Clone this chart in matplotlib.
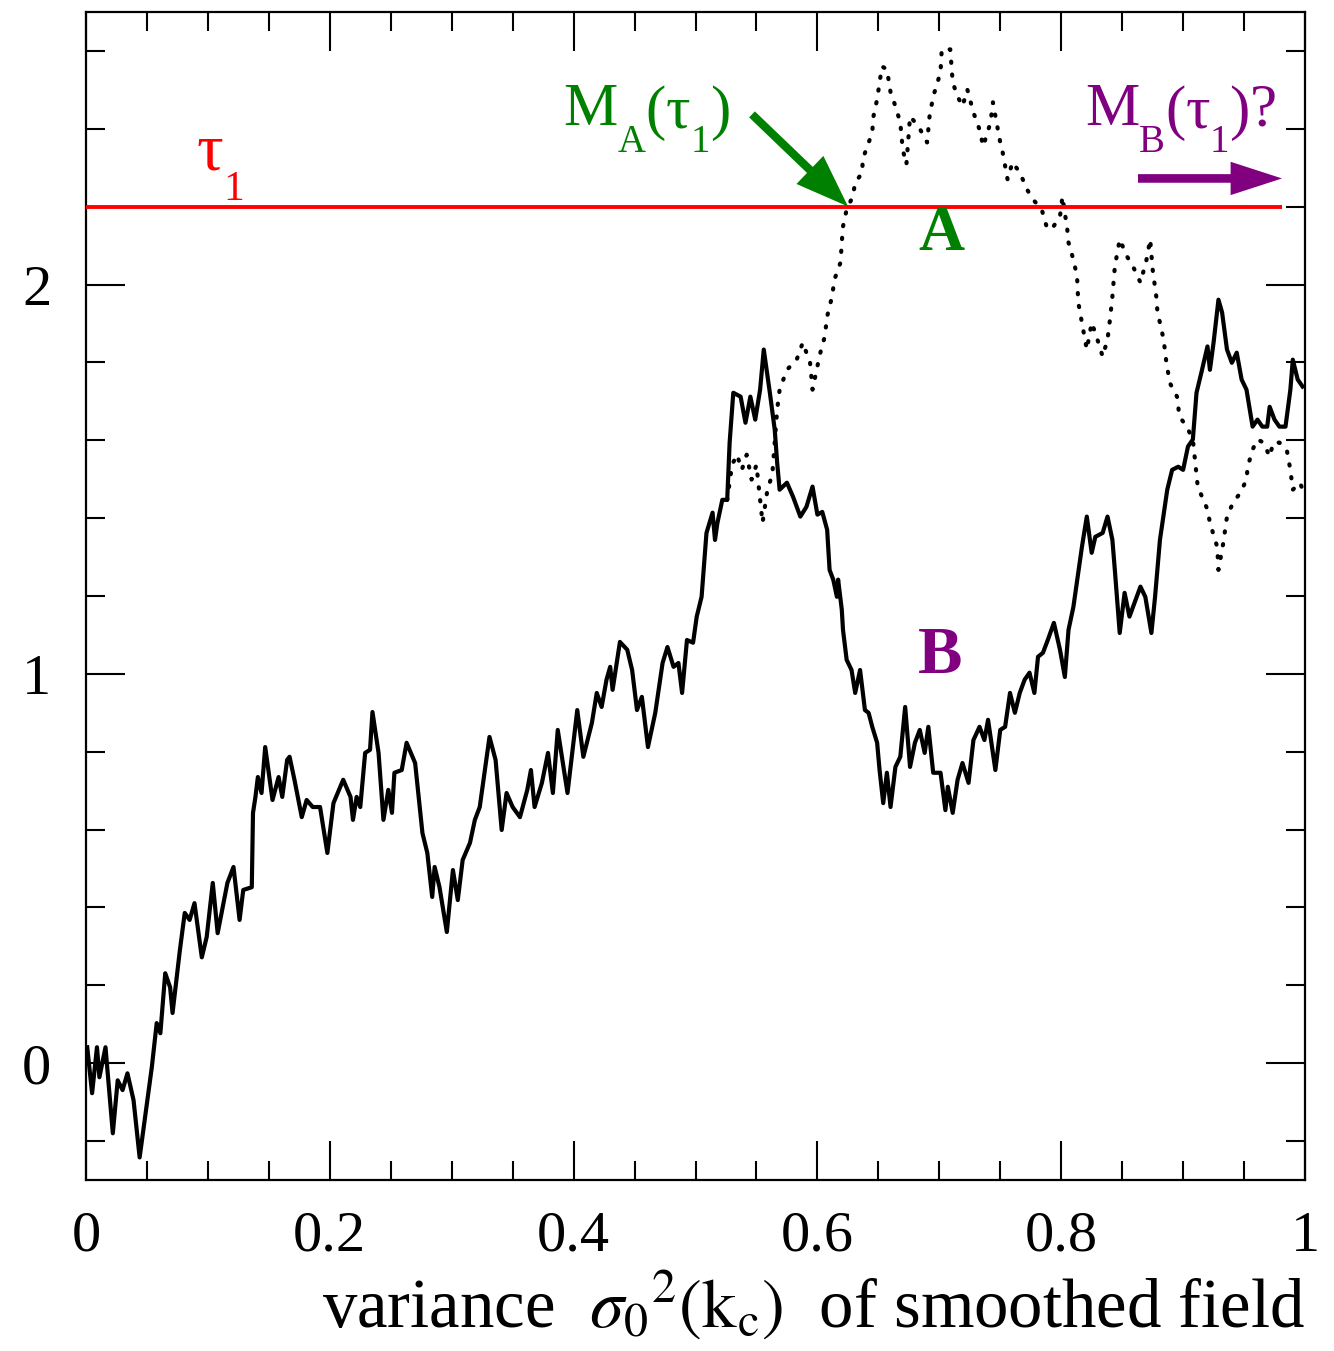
import matplotlib
matplotlib.use('Agg')
import matplotlib.pyplot as plt
from matplotlib.ticker import MultipleLocator, FixedLocator, FixedFormatter

plt.rcParams['mathtext.fontset'] = 'stix'
plt.rcParams['font.family'] = ['Liberation Serif', 'DejaVu Serif']

# ---------------- data ----------------
# common part of the random walk (before the two paths split)
common_x = [0.001, 0.005, 0.009, 0.011, 0.016, 0.022, 0.026, 0.030, 0.034, 0.039,
            0.044, 0.050, 0.054, 0.058, 0.061, 0.065, 0.069, 0.071, 0.077, 0.081,
            0.085, 0.089, 0.095, 0.099, 0.104, 0.108, 0.116, 0.121, 0.126, 0.129,
            0.136, 0.137, 0.139, 0.141, 0.144, 0.147, 0.153, 0.158, 0.161, 0.165,
            0.167, 0.171, 0.177, 0.181, 0.186, 0.192, 0.198, 0.203, 0.211, 0.217,
            0.219, 0.222, 0.225, 0.229, 0.233, 0.235, 0.240, 0.244, 0.248, 0.251,
            0.253, 0.259, 0.263, 0.270, 0.276, 0.280, 0.284, 0.286, 0.290, 0.296,
            0.301, 0.305, 0.309, 0.315, 0.319, 0.323, 0.331, 0.336, 0.341, 0.345,
            0.350, 0.356, 0.362, 0.365, 0.368, 0.374, 0.379, 0.383, 0.387, 0.395,
            0.403, 0.408, 0.415, 0.419, 0.423, 0.427, 0.430, 0.432, 0.438, 0.444,
            0.448, 0.452, 0.456, 0.461, 0.467, 0.473, 0.477, 0.482, 0.486, 0.489,
            0.493, 0.498, 0.501, 0.505, 0.509, 0.514, 0.516, 0.518, 0.522, 0.526]
common_y = [0.041, -0.077, 0.041, -0.036, 0.041, -0.180, -0.044, -0.069, -0.026, -0.095,
            -0.242, -0.103, -0.010, 0.103, 0.077, 0.231, 0.195, 0.129, 0.290, 0.386,
            0.368, 0.411, 0.272, 0.324, 0.463, 0.334, 0.463, 0.504, 0.368, 0.445,
            0.452, 0.643, 0.684, 0.735, 0.694, 0.812, 0.676, 0.735, 0.684, 0.779,
            0.787, 0.728, 0.632, 0.676, 0.658, 0.658, 0.540, 0.668, 0.728, 0.684,
            0.625, 0.684, 0.658, 0.797, 0.805, 0.902, 0.797, 0.625, 0.702, 0.643,
            0.746, 0.753, 0.823, 0.771, 0.591, 0.540, 0.427, 0.504, 0.452, 0.337,
            0.496, 0.419, 0.522, 0.566, 0.625, 0.658, 0.838, 0.779, 0.599, 0.694,
            0.658, 0.632, 0.702, 0.753, 0.658, 0.720, 0.797, 0.694, 0.856, 0.694,
            0.907, 0.787, 0.874, 0.951, 0.915, 0.985, 1.018, 0.959, 1.082, 1.062,
            1.010, 0.907, 0.941, 0.812, 0.900, 1.028, 1.069, 1.018, 1.028, 0.951,
            1.087, 1.080, 1.147, 1.198, 1.362, 1.414, 1.344, 1.388, 1.447, 1.447]

# path B (solid line) after the split
b_x = [0.528, 0.531, 0.537, 0.541, 0.545, 0.549, 0.553, 0.556, 0.561, 0.565,
       0.567, 0.569, 0.575, 0.580, 0.586, 0.591, 0.596, 0.600, 0.604, 0.608,
       0.610, 0.613, 0.616, 0.617, 0.620, 0.621, 0.624, 0.628, 0.631, 0.635,
       0.639, 0.642, 0.645, 0.649, 0.651, 0.654, 0.657, 0.660, 0.664, 0.668,
       0.672, 0.676, 0.680, 0.684, 0.688, 0.691, 0.695, 0.701, 0.705, 0.707,
       0.711, 0.715, 0.719, 0.724, 0.728, 0.733, 0.737, 0.740, 0.746, 0.750,
       0.754, 0.758, 0.762, 0.766, 0.770, 0.774, 0.778, 0.781, 0.785, 0.789,
       0.794, 0.799, 0.803, 0.806, 0.810, 0.814, 0.817, 0.821, 0.825, 0.828,
       0.834, 0.838, 0.842, 0.844, 0.848, 0.852, 0.856, 0.861, 0.865, 0.869,
       0.874, 0.877, 0.881, 0.887, 0.891, 0.896, 0.900, 0.904, 0.908, 0.911,
       0.915, 0.920, 0.922, 0.925, 0.929, 0.932, 0.936, 0.940, 0.944, 0.948,
       0.952, 0.957, 0.961, 0.965, 0.969, 0.971, 0.975, 0.979, 0.984, 0.988,
       0.990, 0.994, 0.998]
b_y = [1.594, 1.722, 1.712, 1.645, 1.712, 1.653, 1.730, 1.833, 1.722, 1.627,
       1.542, 1.473, 1.491, 1.455, 1.404, 1.429, 1.481, 1.409, 1.416, 1.370,
       1.267, 1.242, 1.198, 1.242, 1.165, 1.113, 1.036, 1.010, 0.951, 1.010,
       0.907, 0.900, 0.864, 0.823, 0.753, 0.668, 0.746, 0.658, 0.761, 0.787,
       0.915, 0.761, 0.823, 0.856, 0.797, 0.864, 0.746, 0.746, 0.650, 0.710,
       0.643, 0.728, 0.771, 0.720, 0.830, 0.864, 0.830, 0.882, 0.753, 0.856,
       0.864, 0.951, 0.900, 0.951, 0.985, 1.003, 0.951, 1.044, 1.054, 1.087,
       1.131, 1.062, 0.992, 1.113, 1.172, 1.260, 1.326, 1.404, 1.311, 1.352,
       1.362, 1.404, 1.344, 1.267, 1.105, 1.208, 1.147, 1.190, 1.224, 1.198,
       1.105, 1.198, 1.344, 1.473, 1.524, 1.532, 1.524, 1.584, 1.602, 1.722,
       1.774, 1.841, 1.781, 1.851, 1.961, 1.928, 1.833, 1.799, 1.825, 1.756,
       1.730, 1.635, 1.653, 1.635, 1.635, 1.686, 1.653, 1.635, 1.635, 1.730,
       1.807, 1.756, 1.738]

# path A (dotted) after the split
a_x = [0.526, 0.530, 0.534, 0.538, 0.542, 0.546, 0.550, 0.553, 0.555, 0.559,
       0.563, 0.567, 0.569, 0.575, 0.583, 0.588, 0.594, 0.596, 0.602, 0.606,
       0.608, 0.612, 0.614, 0.619, 0.620, 0.621, 0.624, 0.629, 0.631, 0.637,
       0.637, 0.641, 0.645, 0.646, 0.649, 0.651, 0.653, 0.657, 0.660, 0.664,
       0.668, 0.670, 0.673, 0.676, 0.683, 0.690, 0.692, 0.695, 0.701, 0.702,
       0.709, 0.711, 0.715, 0.719, 0.723, 0.728, 0.733, 0.736, 0.742, 0.744,
       0.747, 0.750, 0.752, 0.756, 0.760, 0.766, 0.772, 0.777, 0.784, 0.788,
       0.792, 0.799, 0.801, 0.805, 0.806, 0.810, 0.813, 0.814, 0.817, 0.821,
       0.825, 0.829, 0.834, 0.838, 0.840, 0.842, 0.844, 0.848, 0.854, 0.859,
       0.865, 0.870, 0.873, 0.875, 0.878, 0.879, 0.881, 0.884, 0.886, 0.889,
       0.895, 0.897, 0.903, 0.908, 0.910, 0.912, 0.920, 0.922, 0.928, 0.929,
       0.933, 0.936, 0.941, 0.947, 0.952, 0.953, 0.957, 0.961, 0.966, 0.971,
       0.974, 0.979, 0.985, 0.988, 0.990, 0.996, 0.998]
a_y = [1.447, 1.537, 1.563, 1.524, 1.563, 1.499, 1.537, 1.447, 1.388, 1.473,
       1.512, 1.679, 1.730, 1.781, 1.807, 1.851, 1.799, 1.730, 1.820, 1.866,
       1.918, 1.969, 2.013, 2.057, 2.108, 2.149, 2.193, 2.226, 2.262, 2.288,
       2.321, 2.355, 2.391, 2.432, 2.476, 2.519, 2.560, 2.553, 2.494, 2.458,
       2.416, 2.347, 2.308, 2.432, 2.406, 2.365, 2.432, 2.483, 2.545, 2.604,
       2.604, 2.519, 2.483, 2.458, 2.501, 2.442, 2.398, 2.355, 2.416, 2.468,
       2.416, 2.365, 2.339, 2.270, 2.314, 2.288, 2.244, 2.218, 2.193, 2.149,
       2.141, 2.175, 2.226, 2.141, 2.108, 2.064, 2.021, 1.954, 1.902, 1.833,
       1.902, 1.866, 1.815, 1.859, 1.910, 1.969, 2.046, 2.116, 2.072, 2.046,
       2.005, 2.064, 2.116, 2.039, 1.969, 1.928, 1.902, 1.859, 1.807, 1.748,
       1.712, 1.661, 1.635, 1.602, 1.542, 1.481, 1.422, 1.388, 1.326, 1.267,
       1.337, 1.404, 1.440, 1.465, 1.499, 1.532, 1.576, 1.602, 1.594, 1.558,
       1.594, 1.594, 1.576, 1.524, 1.473, 1.491, 1.473]

tau1_level = 2.2
tau1_xmax = 0.981

x_tick_values = [0, 0.2, 0.4, 0.6, 0.8, 1.0]
x_tick_labels = ['0', '0.2', '0.4', '0.6', '0.8', '1']
y_tick_values = [0, 1, 2]
y_tick_labels = ['0', '1', '2']

# ---------------- figure ----------------
W, H = 1334, 1351
fig = plt.figure(figsize=(W / 100, H / 100), dpi=100)
ax = fig.add_axes([86 / W, 1 - 1180 / H, (1305 - 86) / W, (1180 - 12) / H])

ax.set_xlim(0, 1)
ax.set_ylim(-0.3, 2.7)

GREEN = '#008000'
PURPLE = '#800080'
RED = '#ff0000'

ax.plot(common_x + b_x, common_y + b_y, color='black', lw=3.0, zorder=3,
        solid_joinstyle='round')
ax.plot(a_x, a_y, color='black', lw=3.0, linestyle=(0, (0.3, 2.8)),
        dash_capstyle='round', zorder=3)
ax.hlines(tau1_level, 0, tau1_xmax, color=RED, lw=2.8, zorder=4)

# ticks
ax.xaxis.set_major_locator(FixedLocator(x_tick_values))
ax.xaxis.set_major_formatter(FixedFormatter(x_tick_labels))
ax.xaxis.set_minor_locator(MultipleLocator(0.05))
ax.yaxis.set_major_locator(FixedLocator(y_tick_values))
ax.yaxis.set_major_formatter(FixedFormatter(y_tick_labels))
ax.yaxis.set_minor_locator(MultipleLocator(0.2))
ax.tick_params(which='both', direction='in', top=True, right=True, width=1.5,
               colors='black')
ax.tick_params(which='major', length=28)
ax.tick_params(which='minor', length=14)
ax.tick_params(axis='x', which='major', labelsize=42, pad=22)
ax.tick_params(axis='y', which='major', labelsize=42, pad=25)
for sp in ax.spines.values():
    sp.set_linewidth(1.6)

renderer = fig.canvas.get_renderer()
FAM = ['Liberation Serif', 'DejaVu Serif']


def runs(px, py, pieces, color, gap=0):
    """Lay out text pieces left to right; each piece: (text, size, baseline_dy)."""
    x = px
    for s, size, dy in pieces:
        t = fig.text(x / W, 1 - (py + dy) / H, s, fontsize=size, color=color,
                     ha='left', va='baseline', family=FAM)
        bb = t.get_window_extent(renderer=renderer)
        x += bb.width + gap


def ptext(px, py, s, size, color, weight='normal', ha='left'):
    fig.text(px / W, 1 - py / H, s, fontsize=size, color=color, ha=ha,
             va='baseline', fontweight=weight, family=FAM)


# tau_1 label
runs(196, 170, [('τ', 48, 0), ('1', 30, 30)], RED, gap=1)

# M_A(tau_1)
runs(563, 125, [('M', 44, 0), ('A', 28, 27), ('(', 44, 3), ('τ', 44, 3),
                ('1', 28, 27), (')', 44, 3)], GREEN, gap=0)

# M_B(tau_1)?
runs(1085, 125, [('M', 44, 0), ('B', 28, 27), ('(', 44, 3), ('τ', 44, 3),
                 ('1', 28, 27), (')', 44, 3), ('?', 44, 0)], PURPLE, gap=0)

# path labels
ptext(941, 250, 'A', 46, GREEN, weight='bold', ha='center')
ptext(940, 673, 'B', 48, PURPLE, weight='bold', ha='center')


# arrows (figure pixel positions converted to data)
def to_data(px, py):
    return ((px - 86) / 1219, (1063 - py) / 389)


ax.annotate('', xy=to_data(848, 207), xytext=to_data(752, 115),
            arrowprops=dict(arrowstyle='simple,head_length=3.8,head_width=2.8,tail_width=0.6',
                            mutation_scale=10, color=GREEN, lw=0, shrinkA=0, shrinkB=0),
            zorder=5)
ax.annotate('', xy=to_data(1282, 179), xytext=to_data(1138, 179),
            arrowprops=dict(arrowstyle='simple,head_length=3.7,head_width=2.4,tail_width=0.62',
                            mutation_scale=10, color=PURPLE, lw=0, shrinkA=0, shrinkB=0),
            zorder=5)

# x-axis label
fig.text(1305 / W, 1 - 1328 / H,
         r'variance  $\sigma_0{}^{2}(\mathrm{k_c})$  of smoothed field',
         fontsize=49.5, ha='right', va='baseline', color='black', family=FAM)

fig.savefig('out.png', dpi=100, facecolor='white')
